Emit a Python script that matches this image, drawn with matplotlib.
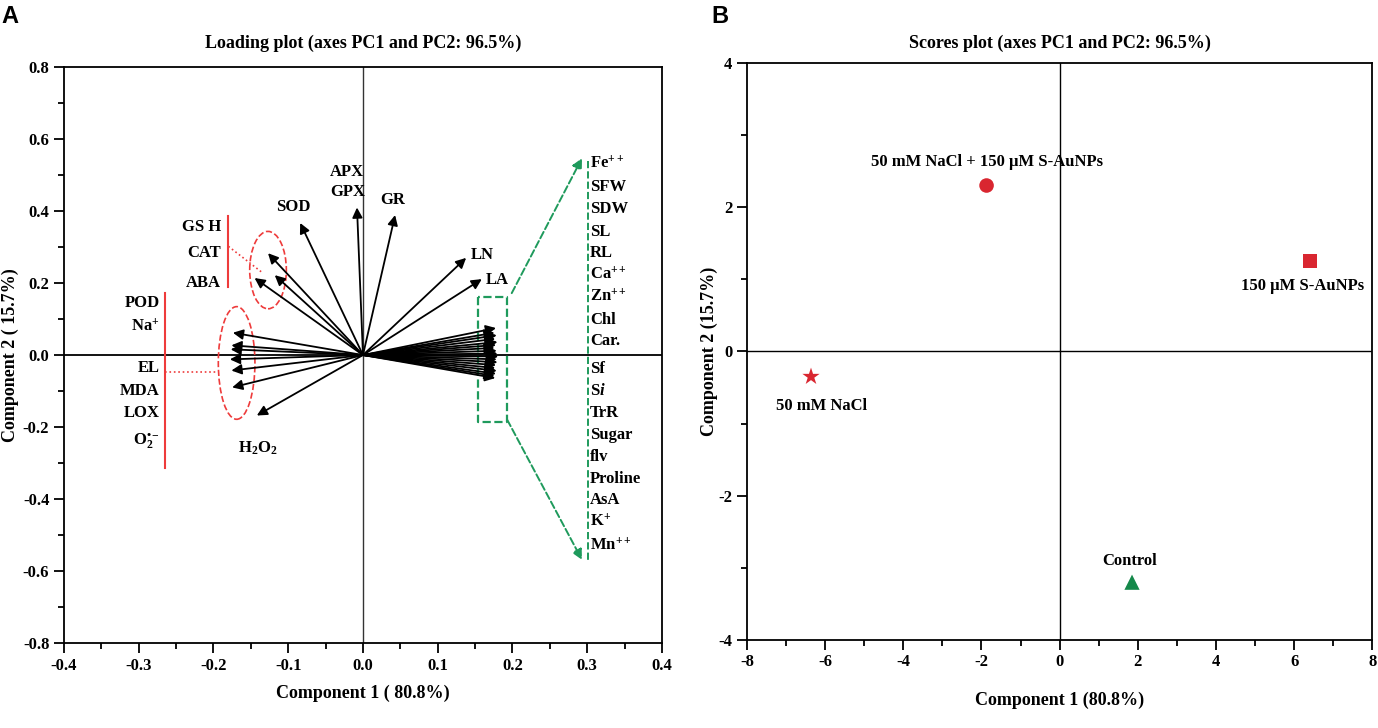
import numpy as np
import matplotlib.pyplot as plt
from matplotlib.patches import Ellipse
from matplotlib.ticker import MultipleLocator

plt.rcParams['font.family'] = ['Liberation Serif', 'DejaVu Serif']
plt.rcParams['font.weight'] = 'bold'
plt.rcParams['axes.titleweight'] = 'bold'
plt.rcParams['axes.labelweight'] = 'bold'
plt.rcParams['axes.unicode_minus'] = False
plt.rcParams['mathtext.fontset'] = 'custom'
plt.rcParams['mathtext.rm'] = 'Liberation Serif:bold'
plt.rcParams['mathtext.it'] = 'Liberation Serif:bold:italic'

# loading plot: arrow heads (PC1, PC2)
top_names = ['APX', 'SOD', 'GR', 'LN', 'LA']
top_x = [-0.008, -0.084, 0.043, 0.138, 0.159]
top_y = [0.41, 0.367, 0.389, 0.27, 0.211]

cat_names = ['GSH', 'CAT', 'ABA']
cat_x = [-0.127, -0.118, -0.145]
cat_y = [0.283, 0.222, 0.214]

neg_names = ['POD', 'Na+', 'EL', 'MDA', 'LOX', 'O2', 'H2O2']
neg_x = [-0.174, -0.176, -0.177, -0.178, -0.176, -0.175, -0.142]
neg_y = [0.062, 0.027, 0.016, -0.012, -0.043, -0.09, -0.168]

pos_names = ['Fe++', 'SFW', 'SDW', 'SL', 'RL', 'Ca++', 'Zn++', 'Chl', 'Car.',
             'Sf', 'Si', 'TrR', 'Sugar', 'flv', 'Proline', 'AsA', 'K+', 'Mn++']
pos_x = [0.178, 0.176, 0.179, 0.177, 0.180, 0.178, 0.176, 0.179, 0.180,
         0.181, 0.179, 0.180, 0.178, 0.177, 0.179, 0.178, 0.176, 0.177]
pos_y = [0.075, 0.062, 0.055, 0.045, 0.036, 0.028, 0.02, 0.012, 0.004,
         -0.004, -0.012, -0.02, -0.028, -0.036, -0.044, -0.052, -0.058, -0.064]

pos_labels = ['Fe$^{++}$', 'SFW', 'SDW', 'SL', 'RL', 'Ca$^{++}$', 'Zn$^{++}$', 'Chl', 'Car.',
              'Sf', 'S$\\mathit{i}$', 'TrR', 'Sugar', 'flv', 'Proline', 'AsA', 'K$^{+}$', 'Mn$^{++}$']
pos_label_y = [0.533, 0.467, 0.406, 0.342, 0.283, 0.222, 0.161, 0.097, 0.039,
               -0.039, -0.100, -0.161, -0.222, -0.283, -0.344, -0.403, -0.464, -0.53]

# scores plot
groups = ['50 mM NaCl + 150 µM S-AuNPs', '150 µM S-AuNPs', '50 mM NaCl', 'Control']
score_x = [-1.87, 6.4, -6.36, 1.85]
score_y = [2.3, 1.25, -0.35, -3.2]
markers = ['o', 's', '*', '^']
colors = ['#d92630', '#d92630', '#d92630', '#14884a']
label_x = [-1.87, 6.2, -6.1, 1.8]
label_y = [2.62, 0.9, -0.75, -2.9]

red = '#ee3b3b'
green = '#1f9a5c'

fig = plt.figure(figsize=(13.78, 7.28), dpi=100)
ax1 = fig.add_axes([0.0464, 0.1168, 0.434, 0.791])
ax2 = fig.add_axes([0.542, 0.121, 0.454, 0.7926])


def arrow(ax, x, y):
    ax.annotate('', xy=(x, y), xytext=(0, 0),
                arrowprops=dict(arrowstyle='-|>', color='black', lw=1.3,
                                mutation_scale=15, shrinkA=0, shrinkB=0))


ax1.axhline(0, color='black', lw=1.3, zorder=1)
ax1.axvline(0, color='#333333', lw=1.0, zorder=1)
for xs, ys in [(top_x, top_y), (cat_x, cat_y), (neg_x, neg_y), (pos_x, pos_y)]:
    for x, y in zip(xs, ys):
        arrow(ax1, x, y)

# red groupings
ax1.plot([-0.265, -0.265], [0.172, -0.314], color=red, lw=1.5)
ax1.plot([-0.18, -0.18], [0.386, 0.19], color=red, lw=1.5)
ax1.plot([-0.265, -0.194], [-0.047, -0.047], color=red, lw=1.2, ls=':')
ax1.plot([-0.18, -0.134], [0.302, 0.228], color=red, lw=1.2, ls=':')
ax1.add_patch(Ellipse((-0.127, 0.236), 0.049, 0.215, fill=False, ec=red, lw=1.2, ls='--'))
ax1.add_patch(Ellipse((-0.169, -0.022), 0.049, 0.313, fill=False, ec=red, lw=1.2, ls='--'))

# green grouping
ax1.plot([0.154, 0.154, 0.193, 0.193, 0.154], [0.161, -0.186, -0.186, 0.161, 0.161],
         color=green, lw=1.6, ls='--')
ax1.plot([0.301, 0.301], [0.54, -0.57], color=green, lw=1.4, ls='--')
for start, end in [((0.199, 0.172), (0.293, 0.547)), ((0.193, -0.18), (0.293, -0.569))]:
    ax1.annotate('', xy=end, xytext=start,
                 arrowprops=dict(arrowstyle='-|>', color=green, lw=1.4, ls='--',
                                 mutation_scale=15, shrinkA=0, shrinkB=0))

fs = 12
for lab, y in zip(pos_labels, pos_label_y):
    ax1.text(0.304, y, lab, fontsize=fs, ha='left', va='center')
for lab, y in zip(['POD', 'Na$^{+}$', 'EL', 'MDA', 'LOX', 'O$_2^{•-}$'],
                  [0.144, 0.078, -0.036, -0.1, -0.16, -0.24]):
    ax1.text(-0.272, y, lab, fontsize=fs, ha='right', va='center')
for lab, y in zip(['GS H', 'CAT', 'ABA'], [0.356, 0.283, 0.2]):
    ax1.text(-0.19, y, lab, fontsize=fs, ha='right', va='center')
ax1.text(-0.14, -0.26, 'H$_2$O$_2$', fontsize=fs, ha='center', va='center')
ax1.text(-0.093, 0.41, 'SOD', fontsize=fs, ha='center', va='center')
ax1.text(-0.022, 0.508, 'APX', fontsize=fs, ha='center', va='center')
ax1.text(-0.021, 0.452, 'GPX', fontsize=fs, ha='center', va='center')
ax1.text(0.04, 0.43, 'GR', fontsize=fs, ha='center', va='center')
ax1.text(0.159, 0.277, 'LN', fontsize=fs, ha='center', va='center')
ax1.text(0.179, 0.208, 'LA', fontsize=fs, ha='center', va='center')

ax1.set_xlim(-0.4, 0.4)
ax1.set_ylim(-0.8, 0.8)
ax1.xaxis.set_major_locator(MultipleLocator(0.1))
ax1.xaxis.set_minor_locator(MultipleLocator(0.05))
ax1.yaxis.set_major_locator(MultipleLocator(0.2))
ax1.yaxis.set_minor_locator(MultipleLocator(0.1))
ax1.xaxis.set_major_formatter(lambda v, p: f'{v:.1f}')
ax1.yaxis.set_major_formatter(lambda v, p: f'{v:.1f}')
ax1.set_title('Loading plot (axes PC1 and PC2: 96.5%)', fontsize=13, pad=14)
ax1.set_xlabel('Component 1 ( 80.8%)', fontsize=13, labelpad=8)
ax1.set_ylabel('Component 2 ( 15.7%)', fontsize=13, labelpad=3)

# scores
ax2.axhline(0, color='black', lw=1.0, zorder=1)
ax2.axvline(0, color='black', lw=1.0, zorder=1)
sizes = [110, 100, 170, 120]
for x, y, m, c, s in zip(score_x, score_y, markers, colors, sizes):
    ax2.scatter(x, y, marker=m, color=c, s=s, zorder=3, edgecolors='none')
for lab, x, y in zip(groups, label_x, label_y):
    ax2.text(x, y, lab, fontsize=fs, ha='center', va='center')
ax2.set_xlim(-8, 8)
ax2.set_ylim(-4, 4)
ax2.xaxis.set_major_locator(MultipleLocator(2))
ax2.xaxis.set_minor_locator(MultipleLocator(1))
ax2.yaxis.set_major_locator(MultipleLocator(2))
ax2.yaxis.set_minor_locator(MultipleLocator(1))
ax2.set_title('Scores plot (axes PC1 and PC2: 96.5%)', fontsize=13, pad=11)
ax2.set_xlabel('Component 1 (80.8%)', fontsize=13, labelpad=15)
ax2.set_ylabel('Component 2 (15.7%)', fontsize=13, labelpad=0)

for ax in (ax1, ax2):
    for sp in ax.spines.values():
        sp.set_linewidth(1.3)
    ax.tick_params(which='both', direction='out', top=False, right=False,
                   labelsize=12, width=1.3)
    ax.tick_params(which='major', length=7)
    ax.tick_params(which='minor', length=4)

fig.text(0.001, 0.978, 'A', fontsize=17, fontweight='bold', family='Liberation Sans', va='center')
fig.text(0.516, 0.978, 'B', fontsize=17, fontweight='bold', family='Liberation Sans', va='center')

fig.savefig('out.png', dpi=100)
